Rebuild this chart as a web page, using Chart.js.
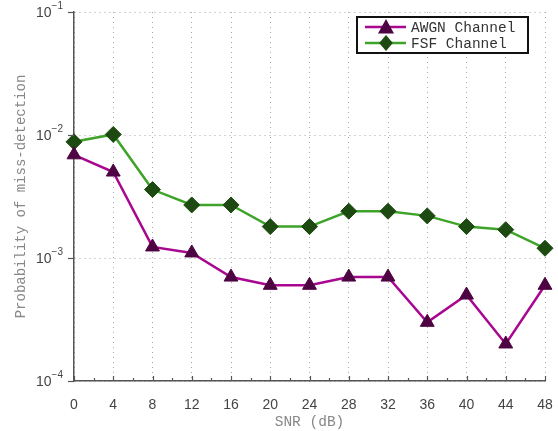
<!DOCTYPE html>
<html>
<head>
<meta charset="utf-8">
<script src="https://cdn.jsdelivr.net/npm/chart.js@4"></script>
<style>
  html, body { margin: 0; padding: 0; background: #fff; }
  #wrap { width: 558px; height: 431px; }
</style>
</head>
<body>
<div id="wrap"><canvas id="chartPmd" width="558" height="431"></canvas></div>
<script>
// values
const snrDb = [0, 4, 8, 12, 16, 20, 24, 28, 32, 36, 40, 44, 48];
const awgnPmd = [0.0069, 0.005, 0.00123, 0.0011, 0.0007, 0.0006, 0.0006, 0.0007, 0.0007, 0.0003, 0.0005, 0.0002, 0.0006];
const fsfPmd = [0.0088, 0.0101, 0.0036, 0.0027, 0.0027, 0.0018, 0.0018, 0.0024, 0.0024, 0.0022, 0.0018, 0.0017, 0.0012];
const yDecades = [1e-4, 1e-3, 1e-2, 1e-1];
const yTickLabels = ["\u22124", "\u22123", "\u22122", "\u22121"];

const toPoints = (vals) => snrDb.map((x, i) => ({ x: x, y: vals[i] }));

/* ==================== custom drawing: ticks, labels, legend ==================== */
const axisDecor = {
  id: "axisDecor",
  afterDraw(chart) {
    const { ctx, chartArea: ca, scales } = chart;
    const xs = scales.x, ys = scales.y;
    ctx.save();
    ctx.strokeStyle = "#555";
    ctx.lineWidth = 1.2;

    // x ticks, pointing inward, with minors
    for (let v = 0; v <= 48; v += 2) {
      const px = Math.round(xs.getPixelForValue(v)) + 0.5;
      const len = v % 4 === 0 ? 5 : 3;
      ctx.beginPath();
      ctx.moveTo(px, ca.bottom);
      ctx.lineTo(px, ca.bottom - len);
      ctx.stroke();
    }
    // y ticks, pointing outward
    yDecades.forEach((v) => {
      const py = Math.round(ys.getPixelForValue(v)) + 0.5;
      ctx.beginPath();
      ctx.moveTo(ca.left - 6, py);
      ctx.lineTo(ca.left, py);
      ctx.stroke();
    });

    // y tick labels 10^n
    ctx.fillStyle = "#444";
    ctx.textBaseline = "middle";
    yDecades.forEach((v, i) => {
      const py = ys.getPixelForValue(v);
      ctx.font = "10px 'Liberation Sans', Arial, sans-serif";
      const ew = ctx.measureText(yTickLabels[i]).width;
      const right = ca.left - 11;
      ctx.textAlign = "left";
      ctx.fillText(yTickLabels[i], right - ew, py - 6);
      ctx.font = "14px 'Liberation Sans', Arial, sans-serif";
      ctx.textAlign = "right";
      ctx.fillText("10", right - ew, py + 1);
    });

    // legend
    const lx = 357, ly = 17, lw = 171, lh = 36;
    ctx.fillStyle = "#fff";
    ctx.fillRect(lx, ly, lw, lh);
    ctx.lineWidth = 2;
    ctx.strokeStyle = "#111";
    ctx.strokeRect(lx, ly, lw, lh);
    chart.data.datasets.forEach((ds, i) => {
      const cy = ly + 10 + i * 16;
      ctx.strokeStyle = ds.borderColor;
      ctx.lineWidth = ds.borderWidth;
      ctx.beginPath();
      ctx.moveTo(365, cy);
      ctx.lineTo(406, cy);
      ctx.stroke();
      ctx.fillStyle = ds.pointBackgroundColor;
      ctx.beginPath();
      const r = ds.pointRadius;
      if (ds.pointStyle === "triangle") {
        ctx.moveTo(386, cy - r);
        ctx.lineTo(386 + r, cy + r * 0.8);
        ctx.lineTo(386 - r, cy + r * 0.8);
      } else {
        ctx.moveTo(386, cy - r);
        ctx.lineTo(386 + r * 0.85, cy);
        ctx.lineTo(386, cy + r);
        ctx.lineTo(386 - r * 0.85, cy);
      }
      ctx.closePath();
      ctx.fill();
      ctx.fillStyle = "#333";
      ctx.font = "14.5px 'Liberation Mono', 'DejaVu Sans Mono', monospace";
      ctx.textAlign = "left";
      ctx.textBaseline = "middle";
      ctx.fillText(ds.label, 411, cy + 1);
    });
    ctx.restore();
  },
};

const ctx = document.getElementById("chartPmd");
new Chart(ctx, {
  type: "line",
  data: {
    datasets: [
      {
        label: "AWGN Channel",
        data: toPoints(awgnPmd),
        borderColor: "#a8078f",
        borderWidth: 2.5,
        pointStyle: "triangle",
        pointRadius: 8,
        pointBackgroundColor: "#4e0342",
        pointBorderColor: "#4e0342",
        pointBorderWidth: 1,
        clip: false,
      },
      {
        label: "FSF Channel",
        data: toPoints(fsfPmd),
        borderColor: "#3da329",
        borderWidth: 2.5,
        pointStyle: "rectRot",
        pointRadius: 8,
        pointBackgroundColor: "#1d4a10",
        pointBorderColor: "#1d4a10",
        pointBorderWidth: 1,
        clip: false,
      },
    ],
  },
  options: {
    responsive: false,
    animation: false,
    layout: { padding: { top: 12, right: 13, left: 0, bottom: 0 } },
    plugins: { legend: { display: false }, tooltip: { enabled: false } },
    scales: {
      x: {
        type: "linear",
        min: 0,
        max: 48,
        afterFit: (s) => {
          s.height = 50;
          s.paddingLeft = 0;
          s.paddingRight = 0;
        },
        ticks: {
          stepSize: 4,
          color: "#444",
          padding: 16,
          font: { family: "'Liberation Sans', Arial, sans-serif", size: 14 },
        },
        grid: { color: "#a8a8a8", lineWidth: 1, drawTicks: false },
        border: { display: true, color: "#555", width: 1.5, dash: [1, 4] },
        title: {
          display: true,
          text: "SNR (dB)",
          color: "#888",
          padding: { top: 0, bottom: 0 },
          font: { family: "'Liberation Mono', monospace", size: 14.5 },
        },
      },
      y: {
        type: "logarithmic",
        min: 1e-4,
        max: 1e-1,
        afterFit: (s) => { s.width = 74; },
        afterBuildTicks: (s) => { s.ticks = yDecades.map((v) => ({ value: v })); },
        ticks: { display: false },
        grid: { color: "#a8a8a8", lineWidth: 1, drawTicks: false },
        border: { display: true, color: "#555", width: 1.5, dash: [1, 4] },
        title: {
          display: true,
          text: "Probability of miss-detection",
          color: "#888",
          padding: { top: 13, bottom: 0 },
          font: { family: "'Liberation Mono', monospace", size: 14 },
        },
      },
    },
  },
  plugins: [axisDecor],
});
</script>
</body>
</html>
